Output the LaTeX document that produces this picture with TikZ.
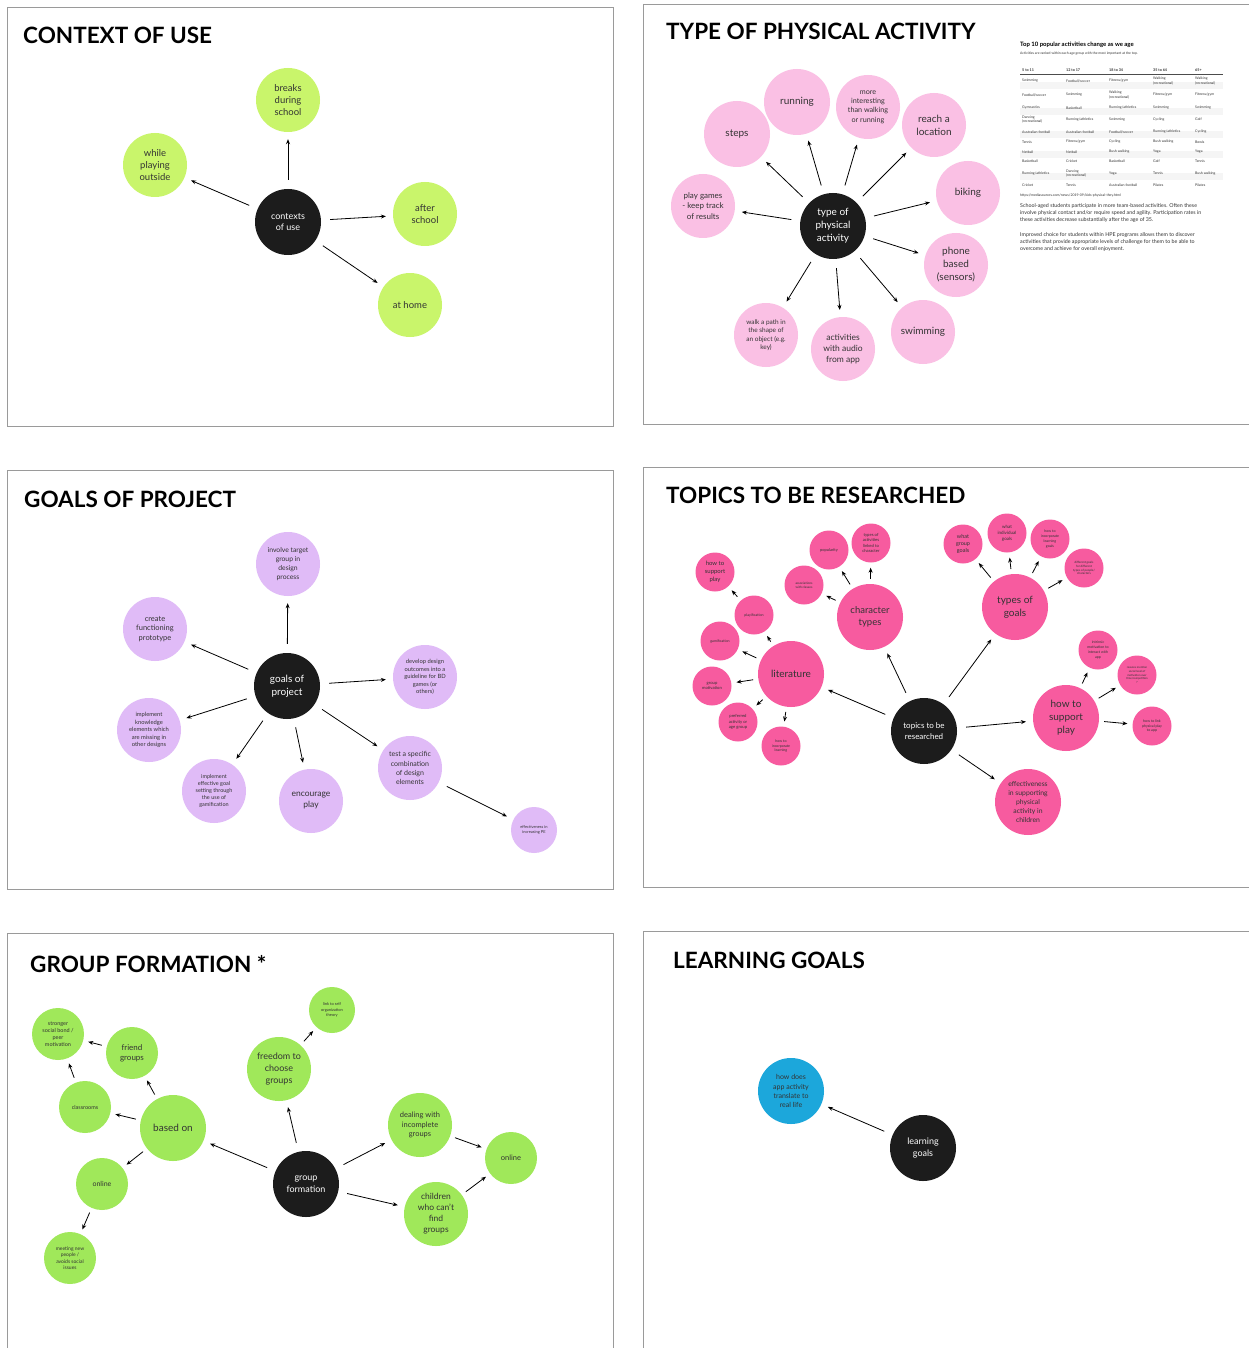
\documentclass[tikz,border=0pt]{standalone}
\usepackage{fontspec}
\setmainfont{Lato}
\usetikzlibrary{arrows.meta}
\definecolor{limec}{HTML}{C9F56B}
\definecolor{pinkl}{HTML}{FAC0E4}
\definecolor{lavc}{HTML}{E0BBF7}
\definecolor{hotp}{HTML}{F75B9F}
\definecolor{grnc}{HTML}{A0E85A}
\definecolor{bluec}{HTML}{1CA7DB}
\definecolor{hubc}{HTML}{1C1C1C}
\definecolor{txtc}{HTML}{333333}
\definecolor{framec}{HTML}{9A9A9A}
\newcommand{\mytrow}[7]{%
  \node[tb] (t#1a) at (1022,#2) {#3};
  \node[tb] (t#1b) at (1066,#2) {#4};
  \node[tb] (t#1c) at (1109,#2) {#5};
  \node[tb] (t#1d) at (1153,#2) {#6};
  \node[tb] (t#1e) at (1195,#2) {#7};}
\begin{document}
\begin{tikzpicture}[x=1pt,y=-1pt,
  fs/.style={font=\fontsize{#1}{#1}\linespread{1.3}\selectfont},
  bub/.style={circle, fill=#1, inner sep=0pt, align=center, text=txtc},
  hub/.style={circle, fill=hubc, inner sep=0pt, align=center, text=white, minimum size=66pt},
  arr/.style={draw=black, line width=0.8pt, -{Stealth[length=5pt,width=4pt]}, shorten <=9pt, shorten >=7pt},
  sarr/.style={arr, shorten <=5pt, shorten >=5pt},
  ttl/.style={anchor=base west, inner sep=0pt, font=\bfseries\fontsize{22.5}{26}\selectfont, text=black},
  panel/.style={draw=framec, line width=0.8pt},
  tb/.style={anchor=west, align=left, inner sep=0pt, text=txtc, font=\fontsize{3.5}{3.5}\linespread{1.2}\selectfont},
  para/.style={anchor=north west, inner sep=0pt, align=left, text=txtc, font=\fontsize{5.3}{5.3}\linespread{1.4}\selectfont},
]
\useasboundingbox (0,0) rectangle (1249,1348);
\fill[white] (0,0) rectangle (1249,1348);

% panels
\draw[panel] (7,7) rectangle (613,426);
\draw[panel] (643,4) -- (1248.5,4);
\draw[panel] (643,4) -- (643,424) -- (1248.5,424);
\draw[panel] (7,470) rectangle (613,889);
\draw[panel] (643,467) -- (1248.5,467);
\draw[panel] (643,467) -- (643,887) -- (1248.5,887);
\draw[panel] (7,1348) -- (7,933) -- (613,933) -- (613,1348);
\draw[panel] (643,1348) -- (643,931) -- (1248.5,931);

% titles
\node[ttl] (T1) at (23,44) {CONTEXT OF USE};
\node[ttl] (T2) at (666,40) {TYPE OF PHYSICAL ACTIVITY};
\node[ttl] (T3) at (24,507) {GOALS OF PROJECT};
\node[ttl] (T4) at (666,503) {TOPICS TO BE RESEARCHED};
\node[ttl] (T5) at (30,972) {GROUP FORMATION *};
\node[ttl] (T6) at (673,968) {LEARNING GOALS};

% ---------- panel 1
\node[hub, fs=9] (cu) at (288,222) {contexts\\of use};
\node[bub=limec, minimum size=64pt, fs=9.5] (cu1) at (288,100) {breaks\\during\\school};
\node[bub=limec, minimum size=64pt, fs=9.5] (cu2) at (155,165) {while\\playing\\outside};
\node[bub=limec, minimum size=64pt, fs=9.5] (cu3) at (425,214) {after\\school};
\node[bub=limec, minimum size=64pt, fs=9.5] (cu4) at (410,305) {at home};
\foreach \t in {cu1,cu2,cu3,cu4} \draw[arr] (cu) -- (\t);

% ---------- panel 2
\node[hub, fs=10] (pa) at (833,226) {type of\\physical\\activity};
\node[bub=pinkl, minimum size=66pt, fs=10] (pa1) at (737,134) {steps};
\node[bub=pinkl, minimum size=66pt, fs=10] (pa2) at (797,102) {running};
\node[bub=pinkl, minimum size=64pt, fs=7.2] (pa3) at (868,107) {more\\interesting\\than walking\\or running};
\node[bub=pinkl, minimum size=64pt, fs=10] (pa4) at (934,125) {reach a\\location};
\node[bub=pinkl, minimum size=64pt, fs=10] (pa5) at (968,193) {biking};
\node[bub=pinkl, minimum size=64pt, fs=10] (pa6) at (956,265) {phone\\based\\(sensors)};
\node[bub=pinkl, minimum size=64pt, fs=10] (pa7) at (923,332) {swimming};
\node[bub=pinkl, minimum size=64pt, fs=8.5] (pa8) at (843,349) {activities\\with audio\\from app};
\node[bub=pinkl, minimum size=64pt, fs=6.5] (pa9) at (766,335) {walk a path in\\the shape of\\an object (e.g.\\key)};
\node[bub=pinkl, minimum size=64pt, fs=8] (pa10) at (703,206) {play games\\- keep track\\of results};
\foreach \t in {pa1,pa2,pa3,pa4,pa5,pa6,pa7,pa8,pa9,pa10} \draw[arr] (pa) -- (\t);

% table
\node[anchor=base west, inner sep=0pt, font=\bfseries\fontsize{6}{7}\selectfont] (tt) at (1020,47) {Top 10 popular activities change as we age};
\node[anchor=base west, inner sep=0pt, text=txtc, font=\fontsize{3.4}{4}\selectfont] (ts) at (1020,55) {Activities are ranked within each age group with the most important at the top.};
\node[tb, font=\bfseries\fontsize{3.7}{4}\selectfont] (th1) at (1022,70) {5 to 11};
\node[tb, font=\bfseries\fontsize{3.7}{4}\selectfont] (th2) at (1066,70) {12 to 17};
\node[tb, font=\bfseries\fontsize{3.7}{4}\selectfont] (th3) at (1109,70) {18 to 34};
\node[tb, font=\bfseries\fontsize{3.7}{4}\selectfont] (th4) at (1153,70) {35 to 64};
\node[tb, font=\bfseries\fontsize{3.7}{4}\selectfont] (th5) at (1195,70) {65+};
\draw[line width=0.6pt, black!70] (1020,74.5) -- (1223,74.5);
\foreach \yy in {88,114,137,157,179} \fill[black!4] (1020,\yy-5.5) rectangle (1223,\yy+1.5);
\mytrow{1}{81}{Swimming}{Football\slash soccer}{Fitness\slash gym}{Walking\\(recreational)}{Walking\\(recreational)}
\mytrow{2}{95}{Football\slash soccer}{Swimming}{Walking\\(recreational)}{Fitness\slash gym}{Fitness\slash gym}
\mytrow{3}{108}{Gymnastics}{Basketball}{Running\slash athletics}{Swimming}{Swimming}
\mytrow{4}{119.5}{Dancing\\(recreational)}{Running\slash athletics}{Swimming}{Cycling}{Golf}
\mytrow{5}{132}{Australian football}{Australian football}{Football\slash soccer}{Running\slash athletics}{Cycling}
\mytrow{6}{142}{Tennis}{Fitness\slash gym}{Cycling}{Bush walking}{Bowls}
\mytrow{7}{152}{Netball}{Netball}{Bush walking}{Yoga}{Yoga}
\mytrow{8}{161}{Basketball}{Cricket}{Basketball}{Golf}{Tennis}
\mytrow{9}{173.5}{Running\slash athletics}{Dancing\\(recreational)}{Yoga}{Tennis}{Bush walking}
\mytrow{10}{185}{Cricket}{Tennis}{Australian football}{Pilates}{Pilates}
\node[anchor=west, inner sep=0pt, text=txtc, font=\fontsize{3.5}{4}\selectfont] (turl) at (1020,195.5) {https://mediasources.com/news/2019-09/kids-physical-they.html};
\node[para] (tp1) at (1020,203) {School-aged students participate in more team-based activities. Often these\\involve physical contact and/or require speed and agility. Participation rates in\\these activities decrease substantially after the age of 35.};
\node[para] (tp2) at (1020,232) {Improved choice for students within HPE programs allows them to discover\\activities that provide appropriate levels of challenge for them to be able to\\overcome and achieve for overall enjoyment.};

% ---------- panel 3
\node[hub, fs=10] (gp) at (287,686) {goals of\\project};
\node[bub=lavc, minimum size=64pt, fs=6.8] (gp1) at (288,564) {involve target\\group in\\design\\process};
\node[bub=lavc, minimum size=64pt, fs=7.5] (gp2) at (155,629) {create\\functioning\\prototype};
\node[bub=lavc, minimum size=64pt, fs=5.8] (gp3) at (425,677) {develop design\\outcomes into a\\guideline for BD\\games (or\\others)};
\node[bub=lavc, minimum size=64pt, fs=5.8] (gp4) at (149,730) {implement\\knowledge\\elements which\\are missing in\\other designs};
\node[bub=lavc, minimum size=64pt, fs=5.5] (gp5) at (214,791) {implement\\effective goal\\setting through\\the use of\\gamification};
\node[bub=lavc, minimum size=64pt, fs=8.5] (gp6) at (311,801) {encourage\\play};
\node[bub=lavc, minimum size=64pt, fs=7] (gp7) at (410,768) {test a specific\\combination\\of design\\elements};
\node[bub=lavc, minimum size=46pt, fs=4] (gp8) at (534,830) {effectiveness in\\increasing PE};
\foreach \t in {gp1,gp2,gp3,gp4,gp5,gp6,gp7} \draw[arr] (gp) -- (\t);
\draw[arr] (gp7) -- (gp8);

% ---------- panel 4
\node[hub, fs=8] (tr) at (924,731) {topics to be\\researched};
\node[bub=hotp, minimum size=66pt, fs=10] (lit) at (791,674) {literature};
\node[bub=hotp, minimum size=66pt, fs=9.5] (ct) at (870,617) {character\\types};
\node[bub=hotp, minimum size=66pt, fs=10] (tg) at (1015,607) {types of\\goals};
\node[bub=hotp, minimum size=66pt, fs=10] (hsp) at (1066,718) {how to\\support\\play};
\node[bub=hotp, minimum size=66pt, fs=6.8] (eff) at (1028,802) {effectiveness\\in supporting\\physical\\activity in\\children};
\foreach \t in {lit,ct,tg,hsp,eff} \draw[arr] (tr) -- (\t);
% literature children
\node[bub=hotp, minimum size=39pt, fs=6] (l0) at (715,572) {how to\\support\\play};
\node[bub=hotp, minimum size=39pt, fs=3.6] (l1) at (754,615) {playification};
\node[bub=hotp, minimum size=39pt, fs=3.6] (l2) at (720,641) {gamification};
\node[bub=hotp, minimum size=39pt, fs=4.2] (l3) at (712,686) {group\\motivation};
\node[bub=hotp, minimum size=39pt, fs=4.2] (l4) at (738,722) {preferred\\activity or\\age group};
\node[bub=hotp, minimum size=39pt, fs=3.6] (l5) at (781,746) {how to\\incorporate\\learning};
\foreach \t in {l1,l2,l3,l4,l5} \draw[sarr] (lit) -- (\t);
\draw[sarr] (l1) -- (l0);
% character children
\node[bub=hotp, minimum size=39pt, fs=3.2] (c1) at (804,585) {associations\\with classes};
\node[bub=hotp, minimum size=39pt, fs=4] (c2) at (829,550) {popularity};
\node[bub=hotp, minimum size=39pt, fs=4.2] (c3) at (871,543) {types of\\activities\\linked to\\character};
\foreach \t in {c1,c2,c3} \draw[sarr] (ct) -- (\t);
% goals children
\node[bub=hotp, minimum size=39pt, fs=5.5] (g1) at (963,544) {what\\group\\goals};
\node[bub=hotp, minimum size=39pt, fs=4.5] (g2) at (1007,533) {what\\individual\\goals};
\node[bub=hotp, minimum size=39pt, fs=3.6] (g3) at (1050,539) {how to\\incorporate\\learning\\goals};
\node[bub=hotp, minimum size=39pt, fs=3] (g4) at (1084,568) {different goals\\for different\\types of people/\\characters};
\foreach \t in {g1,g2,g3,g4} \draw[sarr] (tg) -- (\t);
% support play children
\node[bub=hotp, minimum size=39pt, fs=3.6] (s1) at (1098,650) {intrinsic\\motivation to\\interact with\\app};
\node[bub=hotp, minimum size=39pt, fs=2.8] (s2) at (1137,675) {reasons mention\\social level of\\motivation over\\time/competition\\?};
\node[bub=hotp, minimum size=39pt, fs=3.6] (s3) at (1152,726) {how to link\\physical play\\to app};
\foreach \t in {s1,s2,s3} \draw[sarr] (hsp) -- (\t);

% ---------- panel 5
\node[hub, fs=9] (gf) at (306,1184) {group\\formation};
\node[bub=grnc, minimum size=66pt, fs=10] (bo) at (173,1128) {based on};
\node[bub=grnc, minimum size=64pt, fs=9] (fc) at (279,1069) {freedom to\\choose\\groups};
\node[bub=grnc, minimum size=46pt, fs=4] (lk) at (332,1010) {link to self\\organization\\theory};
\node[bub=grnc, minimum size=64pt, fs=7.5] (dw) at (420,1125) {dealing with\\incomplete\\groups};
\node[bub=grnc, minimum size=64pt, fs=8.5] (cw) at (436,1214) {children\\who can't\\find\\groups};
\node[bub=grnc, minimum size=52pt, fs=7.5] (onr) at (511,1158) {online};
\node[bub=grnc, minimum size=52pt, fs=8] (fg) at (132,1053) {friend\\groups};
\node[bub=grnc, minimum size=52pt, fs=5.5] (sb) at (58,1034) {stronger\\social bond /\\peer\\motivation};
\node[bub=grnc, minimum size=52pt, fs=5.5] (cl) at (85,1107) {classrooms};
\node[bub=grnc, minimum size=52pt, fs=7] (onl) at (102,1184) {online};
\node[bub=grnc, minimum size=52pt, fs=5] (mn) at (70,1258) {meeting new\\people /\\avoids social\\issues};
\foreach \t in {bo,fc,dw,cw} \draw[arr] (gf) -- (\t);
\draw[sarr] (fc) -- (lk);
\foreach \t in {fg,cl,onl} \draw[sarr] (bo) -- (\t);
\draw[sarr] (fg) -- (sb);
\draw[sarr] (cl) -- (sb);
\draw[sarr] (onl) -- (mn);
\draw[sarr] (dw) -- (onr);
\draw[sarr] (cw) -- (onr);

% ---------- panel 6
\node[hub, fs=9] (lg) at (923,1148) {learning\\goals};
\node[bub=bluec, minimum size=66pt, fs=7, text=txtc] (hd) at (791,1091) {how does\\app activity\\translate to\\real life};
\draw[arr] (lg) -- (hd);
\end{tikzpicture}
\end{document}
